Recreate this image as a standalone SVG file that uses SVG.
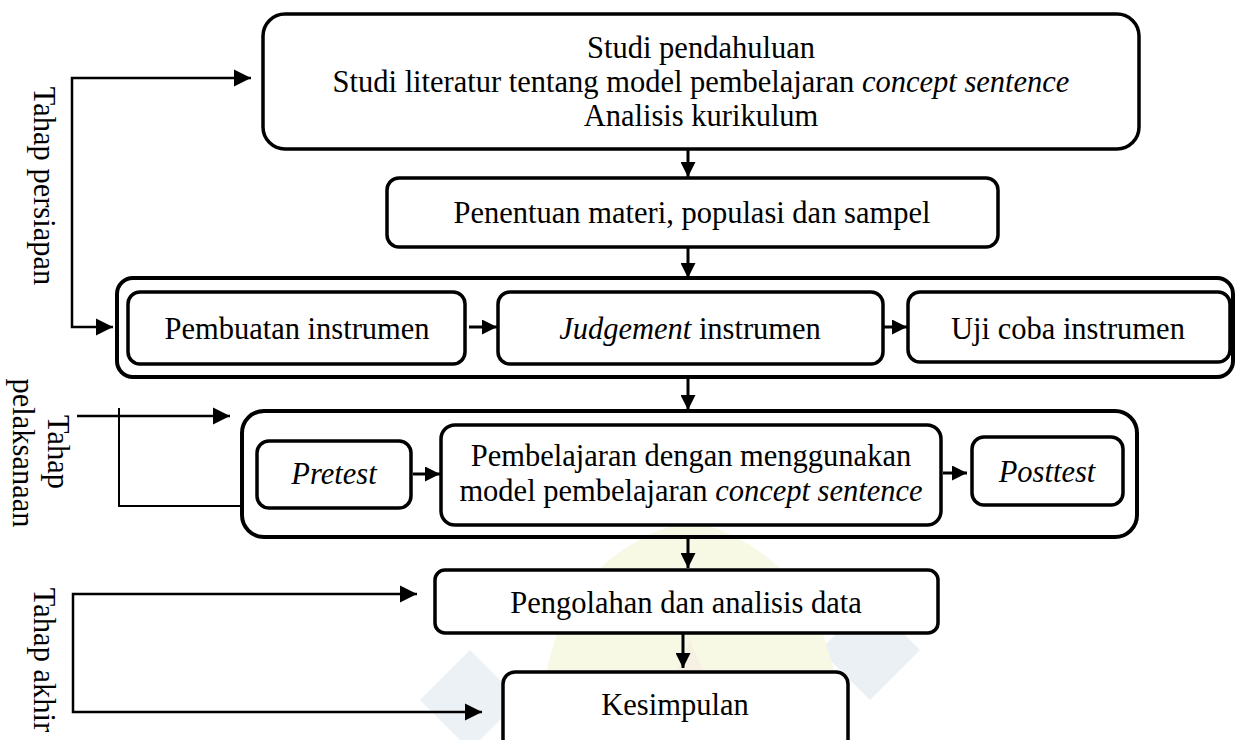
<svg xmlns="http://www.w3.org/2000/svg" width="1235" height="740" viewBox="0 0 1235 740">
<defs>
<style>
.box{fill:#fff;stroke:#000;stroke-width:3.5}
.cont{fill:none;stroke:#000;stroke-width:4}
.t{font-family:"Liberation Serif","Times New Roman",serif;font-size:30.5px;fill:#000;text-anchor:middle}
.i{font-style:italic}
.ln{fill:none;stroke:#000;stroke-width:3}
.br{fill:none;stroke:#000;stroke-width:2.5}
.thin{fill:none;stroke:#000;stroke-width:2}
.wm{opacity:0.14}
</style>
<marker id="ah" viewBox="0 0 10 10" refX="10" refY="5" markerWidth="5" markerHeight="5" markerUnits="strokeWidth" orient="auto">
<path d="M0,0 L10,5 L0,10 Z" fill="#000"/>
</marker>
<marker id="ahb" viewBox="0 0 10 10" refX="10" refY="5" markerWidth="7" markerHeight="7" markerUnits="strokeWidth" orient="auto">
<path d="M0,0 L10,5 L0,10 Z" fill="#000"/>
</marker>
</defs>
<rect width="1235" height="740" fill="#fff"/>
<g id="watermark" class="wm">
<path d="M470,650 L520,700 L470,750 L420,700 Z" fill="#6f9bb0"/>
<path d="M870,600 L920,650 L870,700 L820,650 Z" fill="#6f9bb0"/>
<path d="M540,740 Q540,560 690,520 Q840,560 840,740 Z" fill="#c9d84a"/>
<path d="M690,640 L705,675 L745,680 L715,700 L725,738 L690,718 L655,738 L665,700 L635,680 L675,675 Z" fill="#c9a24a"/>
</g>
<g id="connectors">
<line class="ln" x1="688" y1="149" x2="688" y2="177" marker-end="url(#ah)"/>
<line class="ln" x1="688" y1="247" x2="688" y2="278" marker-end="url(#ah)"/>
<line class="ln" x1="469" y1="327" x2="497" y2="327" marker-end="url(#ah)"/>
<line class="ln" x1="884" y1="327" x2="907" y2="327" marker-end="url(#ah)"/>
<line class="ln" x1="688" y1="377" x2="688" y2="410" marker-end="url(#ah)"/>
<line class="ln" x1="413" y1="474" x2="440" y2="474" marker-end="url(#ah)"/>
<line class="ln" x1="943" y1="473" x2="967" y2="473" marker-end="url(#ah)"/>
<line class="ln" x1="688" y1="537" x2="688" y2="568" marker-end="url(#ah)"/>
<line class="ln" x1="683" y1="634" x2="683" y2="668" marker-end="url(#ah)"/>
<polyline class="br" points="72,200 72,78 251,78" marker-end="url(#ahb)"/>
<polyline class="br" points="72,200 72,327 113,327" marker-end="url(#ahb)"/>
<line class="br" x1="77" y1="416" x2="230" y2="416" marker-end="url(#ahb)"/>
<polyline class="thin" points="119,408 119,506 242,506"/>
<polyline class="br" points="73,650 73,594 417,594" marker-end="url(#ahb)"/>
<polyline class="br" points="73,650 73,712 482,712" marker-end="url(#ahb)"/>
</g>
<g id="n1"><rect class="box" x="263" y="14" width="876" height="135" rx="22"/>
<text class="t" x="701" y="58">Studi pendahuluan</text>
<text class="t" x="701" y="92">Studi literatur tentang model pembelajaran <tspan class="i">concept sentence</tspan></text>
<text class="t" x="701" y="126">Analisis kurikulum</text></g>
<g id="n2"><rect class="box" x="387" y="178" width="611" height="69" rx="12"/>
<text class="t" x="692" y="223">Penentuan materi, populasi dan sampel</text></g>
<g id="c3"><rect class="cont" x="117" y="278" width="1116" height="99" rx="16"/></g>
<g id="n3"><rect class="box" x="128" y="292" width="337" height="72" rx="12"/>
<text class="t" x="297" y="339">Pembuatan instrumen</text></g>
<g id="n4"><rect class="box" x="498" y="292" width="385" height="72" rx="12"/>
<text class="t" x="690" y="339"><tspan class="i">Judgement</tspan> instrumen</text></g>
<g id="n5"><rect class="box" x="908" y="292" width="322" height="70" rx="12"/>
<text class="t" x="1068" y="339">Uji coba instrumen</text></g>
<g id="c4"><rect class="cont" x="242" y="411" width="895" height="126" rx="22"/></g>
<g id="n6"><rect class="box" x="257" y="441" width="154" height="67" rx="12"/>
<text class="t i" x="334" y="484">Pretest</text></g>
<g id="n7"><rect class="box" x="441" y="425" width="500" height="100" rx="14"/>
<text class="t" x="691" y="466">Pembelajaran dengan menggunakan</text>
<text class="t" x="691" y="501">model pembelajaran <tspan class="i">concept sentence</tspan></text></g>
<g id="n8"><rect class="box" x="972" y="437" width="151" height="68" rx="12"/>
<text class="t i" x="1047" y="482">Posttest</text></g>
<g id="n9"><rect class="box" x="435" y="570" width="503" height="63" rx="10"/>
<text class="t" x="686" y="613">Pengolahan dan analisis data</text></g>
<g id="n10"><rect class="box" x="503" y="672" width="345" height="90" rx="12"/>
<text class="t" x="675" y="715">Kesimpulan</text></g>
<g id="labels">
<text class="t" transform="translate(34,186) rotate(90)">Tahap persiapan</text>
<text class="t" transform="translate(48,452) rotate(90)">Tahap</text>
<text class="t" transform="translate(13,453) rotate(90)">pelaksanaan</text>
<text class="t" transform="translate(34,660) rotate(90)">Tahap akhir</text>
</g>
</svg>
